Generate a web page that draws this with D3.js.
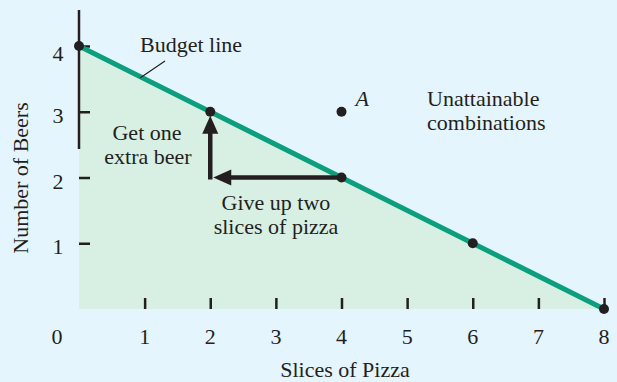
<!DOCTYPE html>
<html>
<head>
<meta charset="utf-8">
<script src="https://cdn.jsdelivr.net/npm/d3@7"></script>
<style>
  html, body { margin: 0; padding: 0; background: #e5f5fd; }
  svg { display: block; }
  text { font-family: "Liberation Serif", "DejaVu Serif", serif; fill: #231f20; font-size: 22px; }
</style>
</head>
<body>
<div id="chart"></div>
<script>
// data
const pizza = [0, 2, 4, 6, 8];
const beers = [4, 3, 2, 1, 0];
const pointA = [4, 3];
const xTicks = [1, 2, 3, 4, 5, 6, 7, 8];
const yTicks = [1, 2, 3, 4];
// the trade: give up two slices (4 -> 2), get one beer (2 -> 3)
const giveUp = [[4, 2], [2, 2]];
const getOne = [[2, 2], [2, 3]];

const width = 617, height = 382;
const ink = "#231f20";
const green = "#0b9e7f";

const svg = d3.select("#chart")
  .append("svg")
  .attr("width", width)
  .attr("height", height);

svg.append("rect").attr("width", width).attr("height", height).attr("fill", "#e5f5fd");

const x = d3.scaleLinear().domain([0, 8]).range([79, 604]);
const y = d3.scaleLinear().domain([0, 4]).range([309, 46]);

const budget = pizza.map((p, i) => [p, beers[i]]);

// shaded attainable area
const area = d3.area()
  .x(d => x(d[0]))
  .y0(y(0))
  .y1(d => y(d[1]));

svg.append("path")
  .datum(budget)
  .attr("fill", "#d8efe3")
  .attr("d", area);

// y axis line (only upper part is drawn)
svg.append("line")
  .attr("x1", x(0)).attr("x2", x(0))
  .attr("y1", 10).attr("y2", 149)
  .attr("stroke", ink).attr("stroke-width", 2.5);

// y ticks + labels
const yAxis = d3.axisRight(y).tickValues(yTicks).tickSize(11).tickFormat("");
const gy = svg.append("g").attr("transform", `translate(${x(0)},0)`).call(yAxis);
gy.select(".domain").remove();
gy.selectAll(".tick line").attr("stroke", ink).attr("stroke-width", 2.5);

svg.append("g").selectAll("text")
  .data(yTicks)
  .join("text")
  .attr("x", 58)
  .attr("y", d => y(d) + (d === 4 ? 15 : 11))
  .attr("text-anchor", "middle")
  .text(d => d);

// x ticks (short marks above baseline) + labels
const xAxis = d3.axisTop(x).tickValues(xTicks).tickSize(11).tickFormat("");
const gx = svg.append("g").attr("transform", `translate(0,${y(0)})`).call(xAxis);
gx.select(".domain").remove();
gx.selectAll(".tick line").attr("stroke", ink).attr("stroke-width", 2.5);

svg.append("g").selectAll("text")
  .data(xTicks)
  .join("text")
  .attr("x", d => x(d))
  .attr("y", 344)
  .attr("text-anchor", "middle")
  .text(d => d);

svg.append("text")
  .attr("x", 57).attr("y", 344)
  .attr("text-anchor", "middle")
  .text("0");

// budget line
svg.append("path")
  .datum(budget)
  .attr("fill", "none")
  .attr("stroke", green)
  .attr("stroke-width", 5)
  .attr("d", d3.line().x(d => x(d[0])).y(d => y(d[1])));

// horizontal arrow: give up two slices
svg.append("line")
  .attr("x1", x(giveUp[0][0])).attr("y1", y(giveUp[0][1]))
  .attr("x2", x(giveUp[1][0]) + 12).attr("y2", y(giveUp[1][1]))
  .attr("stroke", ink).attr("stroke-width", 4.5);
svg.append("path")
  .attr("fill", ink)
  .attr("d", () => {
    const tx = x(giveUp[1][0]) + 3, ty = y(giveUp[1][1]);
    return `M${tx},${ty}L${tx + 18},${ty - 8}L${tx + 18},${ty + 8}Z`;
  });

// vertical arrow: get one extra beer
svg.append("line")
  .attr("x1", x(getOne[0][0])).attr("y1", y(getOne[0][1]) + 2)
  .attr("x2", x(getOne[1][0])).attr("y2", y(getOne[1][1]) + 16)
  .attr("stroke", ink).attr("stroke-width", 4.5);
svg.append("path")
  .attr("fill", ink)
  .attr("d", () => {
    const tx = x(getOne[1][0]), ty = y(getOne[1][1]) + 4;
    return `M${tx},${ty}L${tx - 8},${ty + 18}L${tx + 8},${ty + 18}Z`;
  });

// points
svg.append("g").selectAll("circle")
  .data(budget.concat([pointA]))
  .join("circle")
  .attr("cx", d => x(d[0]))
  .attr("cy", d => y(d[1]))
  .attr("r", 5)
  .attr("fill", ink);

// annotations
svg.append("text").attr("x", 140).attr("y", 52).text("Budget line");
svg.append("line")
  .attr("x1", 140).attr("y1", 78).attr("x2", 165).attr("y2", 61)
  .attr("stroke", ink).attr("stroke-width", 1.2);

const getText = svg.append("text").attr("text-anchor", "middle");
getText.append("tspan").attr("x", 147).attr("y", 140).text("Get one");
getText.append("tspan").attr("x", 148).attr("y", 164).text("extra beer");

const giveText = svg.append("text").attr("text-anchor", "middle");
giveText.append("tspan").attr("x", 276).attr("y", 210).text("Give up two");
giveText.append("tspan").attr("x", 276).attr("y", 234).text("slices of pizza");

svg.append("text")
  .attr("x", x(pointA[0]) + 14).attr("y", 106)
  .style("font-style", "italic")
  .text("A");

const unText = svg.append("text");
unText.append("tspan").attr("x", 427).attr("y", 106).text("Unattainable");
unText.append("tspan").attr("x", 427).attr("y", 130).text("combinations");

// axis titles
svg.append("text")
  .attr("transform", "translate(28,178) rotate(-90)")
  .attr("text-anchor", "middle")
  .text("Number of Beers");

svg.append("text")
  .attr("x", 345).attr("y", 377)
  .attr("text-anchor", "middle")
  .text("Slices of Pizza");
</script>
</body>
</html>
